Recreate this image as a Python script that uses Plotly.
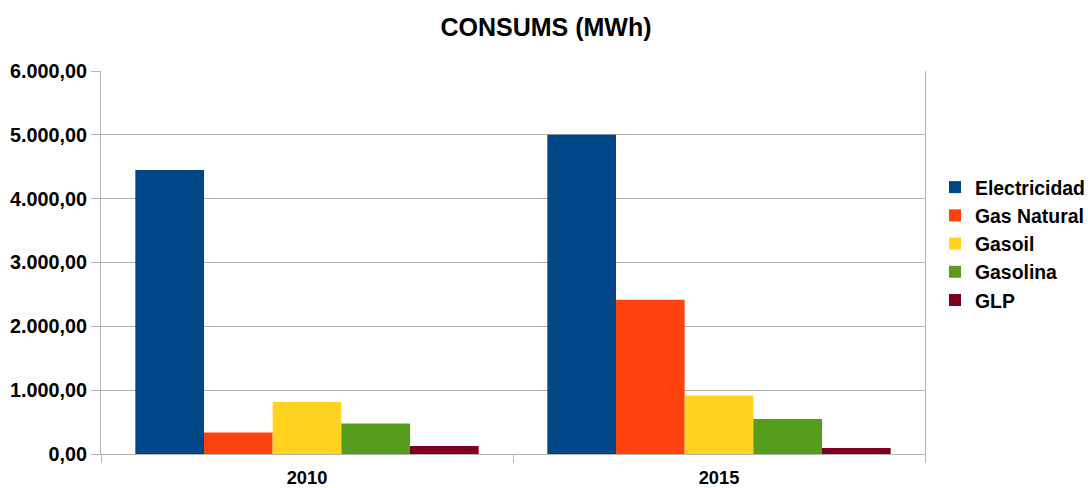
import plotly.graph_objects as go

categories = ["2010", "2015"]
series_names = ["Electricidad", "Gas Natural", "Gasoil", "Gasolina", "GLP"]
electricidad = [4450, 5000]
gas_natural = [335, 2418]
gasoil = [816, 915]
gasolina = [476, 549]
glp = [126, 94]
colors = ["#004586", "#ff420e", "#ffd320", "#579d1c", "#7e0021"]

values = [electricidad, gas_natural, gasoil, gasolina, glp]

FONT = "Liberation Sans, Arial, sans-serif"
GRID = "#b3b3b3"

fig = go.Figure()
for name, vals, col in zip(series_names, values, colors):
    fig.add_trace(go.Bar(name=name, x=categories, y=vals, marker=dict(color=col, line=dict(width=0))))

L, R, T, B = 101, 163, 71, 34
PW = 1088 - L - R
PH = 488 - T - B

fig.update_layout(
    width=1088, height=488,
    margin=dict(l=L, r=R, t=T, b=B, autoexpand=False),
    paper_bgcolor="white", plot_bgcolor="white",
    separators=",.",
    barmode="group", bargap=1/6, bargroupgap=0,
    title=dict(text="CONSUMS (MWh)", x=546 / 1088, xanchor="center", xref="container", y=1 - 27 / 488, yanchor="middle",
               yref="container",
               font=dict(family=FONT, size=25, color="black", weight="bold")),
    legend=dict(x=(935 - L) / PW, xref="paper", font=dict(family=FONT, size=19.4, color="black", weight="bold"),
                yanchor="middle", y=(454 - 244) / PH, bgcolor="rgba(0,0,0,0)", tracegroupgap=0),
    showlegend=True,
)

fig.update_xaxes(
    type="category", showgrid=False, showline=True, linecolor=GRID, linewidth=1,
    ticks="outside", tickson="boundaries", ticklen=8, tickcolor=GRID, tickwidth=1,
    tickfont=dict(family=FONT, size=18.3, color="black", weight="bold"),
    ticklabelstandoff=7,
    automargin=False,
)
fig.update_yaxes(
    range=[0, 6000], dtick=1000, tick0=0, tickformat=",.2f",
    showgrid=True, gridcolor=GRID, gridwidth=1,
    showline=True, linecolor=GRID, linewidth=1, mirror=True,
    ticks="outside", ticklen=9, tickcolor=GRID, tickwidth=1,
    zeroline=False,
    tickfont=dict(family=FONT, size=19.8, color="black", weight="bold"),
    automargin=False,
)

fig.write_html("out.html", config={"displayModeBar": False},
               post_script="document.body.style.margin='0';document.body.style.padding='0';")
